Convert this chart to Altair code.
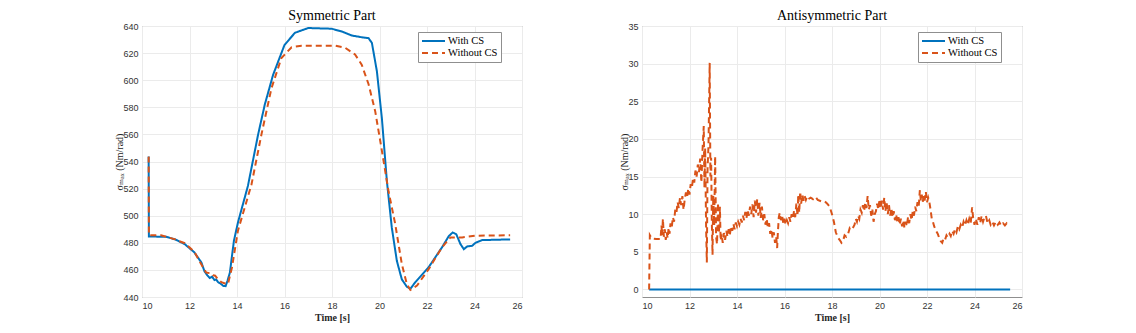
import altair as alt
import pandas as pd

# ---------------- Symmetric part ----------------
sym_t_with = [10.28, 10.29, 11.0, 11.4, 11.8, 12.2, 12.5, 12.63, 12.75, 12.85, 12.95, 13.05, 13.12, 13.2,
              13.3, 13.42, 13.52, 13.6, 13.7, 13.87, 14.04, 14.46, 14.89, 15.17, 15.52, 16.0, 16.44, 17.0,
              17.98, 18.41, 18.83, 19.25, 19.54, 19.68, 19.89, 20.1, 20.31, 20.52, 20.73, 20.94, 21.15,
              21.3, 21.5, 22.07, 22.63, 22.92, 23.08, 23.23, 23.41, 23.55, 23.69, 23.9, 24.04, 24.32, 25.5]
sym_v_with = [543.6, 484.6, 484.5, 482.5, 479, 473, 465.5, 459, 456, 454, 455, 452.5, 453, 451,
              450, 448.2, 448, 452, 458, 481.5, 495, 522, 560, 582, 604, 626, 635, 638.5,
              638, 636, 633, 631.7, 631, 627.5, 606.6, 572, 525.6, 491, 466.7, 453, 447.6,
              446, 450.8, 462, 476.6, 485, 487.6, 486.4, 479, 475.3, 477.3, 477.8, 480, 482, 482.5]

sym_t_without = [10.28, 10.29, 10.8, 11.4, 11.8, 12.2, 12.49, 12.7, 12.92, 13.0, 13.08, 13.2, 13.34, 13.5,
                 13.62, 13.79, 14.04, 14.61, 15.03, 15.45, 15.87, 16.3, 16.72, 18.13, 18.55, 18.97, 19.25,
                 19.54, 19.82, 20.1, 20.38, 20.66, 20.94, 21.15, 21.3, 21.58, 22.07, 22.63, 22.99, 23.48,
                 24.04, 25.5]
sym_v_without = [543.6, 485.6, 485.6, 482.5, 479.7, 473.5, 464.3, 458, 457.4, 456, 455.7, 453, 451, 450,
                 449.6, 462, 489, 523, 560, 594, 616.4, 624.3, 625.5, 625.5, 624, 619, 611.5,
                 597, 577, 548, 518, 494, 464.3, 449.6, 445.2, 448.4, 460.6, 476.6, 484, 484,
                 485.2, 485.6]

# ---------------- Antisymmetric part ----------------
anti_t_with = [10.3, 25.5]
anti_v_with = [0.0, 0.0]

anti_t_without = [
    10.30, 10.33, 10.40, 10.60, 10.78, 10.82, 10.85, 10.88, 10.92, 10.96, 11.00, 11.04, 11.08, 11.12,
    11.16, 11.20, 11.25, 11.30, 11.35, 11.40, 11.45, 11.50, 11.55, 11.60, 11.65, 11.70, 11.75, 11.80,
    11.85, 11.90, 11.95, 12.00, 12.05, 12.10, 12.15, 12.20, 12.25, 12.30, 12.35, 12.40, 12.45, 12.50,
    12.55, 12.60, 12.63, 12.66, 12.70, 12.73, 12.76, 12.80, 12.85, 12.88, 12.91, 12.94, 12.97, 13.00,
    13.04, 13.08, 13.12, 13.16, 13.20, 13.24, 13.28, 13.31, 13.35, 13.40, 13.45, 13.50, 13.55, 13.60,
    13.65, 13.70, 13.75, 13.80, 13.85, 13.90, 13.95, 14.00, 14.05, 14.10, 14.15, 14.20, 14.25, 14.30,
    14.35, 14.40, 14.45, 14.50, 14.55, 14.60, 14.65, 14.70, 14.75, 14.80, 14.85, 14.90, 14.95, 15.00,
    15.05, 15.10, 15.15, 15.20, 15.25, 15.30, 15.35, 15.40, 15.45, 15.50, 15.55, 15.60, 15.65, 15.69,
    15.72, 15.76, 15.80, 15.85, 15.90, 15.95, 16.00, 16.05, 16.10, 16.15, 16.20, 16.25, 16.30, 16.35,
    16.40, 16.45, 16.50, 16.55, 16.58, 16.62, 16.66, 16.70, 16.75, 16.80, 16.85, 16.90, 16.95, 17.00,
    17.10, 17.20, 17.30, 17.40, 17.55, 17.70, 17.80, 17.90, 18.00, 18.08, 18.16, 18.25, 18.32, 18.40,
    18.46, 18.53, 18.60, 18.68, 18.75, 18.85, 18.95, 19.00, 19.05, 19.10, 19.15, 19.20, 19.25, 19.30,
    19.35, 19.40, 19.45, 19.50, 19.55, 19.60, 19.65, 19.70, 19.75, 19.80, 19.85, 19.90, 19.95, 20.00,
    20.05, 20.10, 20.15, 20.20, 20.25, 20.30, 20.35, 20.40, 20.45, 20.50, 20.55, 20.60, 20.65, 20.70,
    20.75, 20.80, 20.85, 20.90, 20.95, 21.00, 21.05, 21.10, 21.15, 21.20, 21.25, 21.30, 21.35, 21.40,
    21.45, 21.50, 21.55, 21.60, 21.65, 21.70, 21.74, 21.78, 21.82, 21.86, 21.90, 21.95, 22.00, 22.05,
    22.10, 22.15, 22.20, 22.25, 22.30, 22.38, 22.45, 22.52, 22.58, 22.64, 22.70, 22.76, 22.82, 22.88,
    22.95, 23.00, 23.06, 23.12, 23.18, 23.24, 23.30, 23.36, 23.42, 23.48, 23.54, 23.60, 23.66, 23.72,
    23.78, 23.84, 23.90, 23.94, 24.00, 24.06, 24.12, 24.18, 24.24, 24.30, 24.36, 24.42, 24.48, 24.55,
    24.62, 24.68, 24.75, 24.82, 24.90, 24.98, 25.05, 25.12, 25.20, 25.28, 25.36, 25.44, 25.50]
anti_v_without = [
    0.0, 7.2, 6.8, 6.7, 6.7, 8.5, 7.2, 9.4, 7.0, 8.0, 6.6, 7.6, 6.8, 8.2,
    7.4, 8.8, 8.2, 9.6, 9.0, 10.6, 10.2, 11.6, 10.8, 12.2, 11.2, 12.4, 10.6, 12.0,
    12.9, 12.3, 13.4, 12.6, 14.0, 13.5, 14.8, 14.2, 15.8, 15.0, 16.6, 15.6, 17.4, 14.2,
    18.6, 21.7, 13.5, 18.8, 8.0, 3.6, 16.0, 19.2, 30.1, 15.0, 17.5, 9.0, 4.6, 12.5,
    8.5, 17.7, 7.0, 6.0, 11.5, 7.5, 11.0, 6.5, 7.4, 6.2, 7.5, 6.6, 7.8, 7.0,
    8.0, 7.3, 8.4, 7.8, 8.7, 8.0, 8.9, 8.4, 9.0, 8.6, 9.4, 8.9, 9.8, 9.2,
    10.3, 9.5, 10.6, 9.8, 11.0, 10.0, 11.3, 9.6, 11.8, 10.2, 12.0, 9.8, 11.5, 9.5,
    11.0, 9.2, 10.0, 8.6, 9.4, 8.2, 8.8, 7.4, 8.0, 6.8, 7.6, 6.2, 7.0, 5.5,
    7.5, 9.6, 10.2, 9.2, 9.8, 8.8, 9.4, 8.6, 9.2, 8.8, 9.6, 9.0, 10.0, 9.4,
    10.4, 9.6, 11.4, 9.8, 12.6, 10.2, 13.0, 11.4, 12.6, 11.8, 12.4, 11.9, 12.3, 12.0,
    12.2, 12.0, 12.3, 11.9, 11.7, 11.7, 11.4, 11.0, 10.0, 9.0, 7.6, 6.9, 6.6, 6.2,
    6.4, 7.2, 7.0, 7.4, 8.2, 8.0, 8.6, 9.4, 9.0, 9.8, 9.4, 10.6, 10.2, 11.2,
    10.4, 11.6, 10.8, 12.4, 10.6, 11.2, 9.8, 10.6, 9.0, 10.0, 10.4, 11.4, 10.6, 12.0,
    10.8, 11.8, 10.6, 12.2, 10.4, 11.6, 10.0, 11.2, 9.8, 10.8, 9.6, 10.4, 9.2, 10.0,
    9.0, 9.6, 8.6, 9.4, 8.4, 9.2, 8.2, 9.0, 8.4, 9.6, 8.8, 10.0, 9.2, 10.4,
    9.8, 11.0, 10.4, 11.6, 11.0, 13.2, 11.8, 12.6, 11.6, 12.4, 11.8, 13.0, 11.6, 12.2,
    11.6, 10.6, 9.4, 9.0, 8.4, 7.8, 7.4, 6.8, 6.4, 6.2, 6.8, 6.6, 7.2, 6.9,
    7.4, 7.1, 7.8, 7.4, 8.0, 7.6, 8.4, 8.0, 8.6, 8.2, 9.0, 8.5, 9.2, 8.6,
    9.4, 8.8, 10.9, 9.6, 8.6, 9.4, 8.6, 9.6, 8.8, 9.8, 9.0, 9.6, 9.8, 8.8,
    9.2, 8.6, 9.0, 8.5, 9.0, 8.6, 8.9, 8.5, 8.8, 8.5, 8.8, 8.6, 8.7]

series_names = ["With CS", "Without CS"]
series_colors = ["#0072BD", "#D95319"]
x_ticks = [10, 12, 14, 16, 18, 20, 22, 24, 26]
sym_y_ticks = [440, 460, 480, 500, 520, 540, 560, 580, 600, 620, 640]
anti_y_ticks = [0, 5, 10, 15, 20, 25, 30, 35]

SERIF = "Liberation Serif, Times New Roman, DejaVu Serif, serif"


def frame(t_with, v_with, t_without, v_without):
    a = pd.DataFrame({"t": t_with, "v": v_with, "s": series_names[0]})
    b = pd.DataFrame({"t": t_without, "v": v_without, "s": series_names[1]})
    return pd.concat([a, b], ignore_index=True)


def panel(df, title, ydomain, yticks):
    legend = alt.Legend(
        title=None, orient="none", legendX=276, legendY=6, direction="vertical",
        padding=3, strokeColor="#8f8f8f", fillColor="white",
        labelFont=SERIF, labelFontSize=10.5, labelColor="black",
        symbolType="M-1,0H3.6", symbolSize=100, symbolStrokeWidth=2, labelOffset=15,
        rowPadding=0,
    )
    return alt.Chart(df).mark_line(strokeWidth=2, clip=True).encode(
        x=alt.X("t:Q", scale=alt.Scale(domain=[10, 26], nice=False, zero=False),
                axis=alt.Axis(values=x_ticks, title="Time [s]")),
        y=alt.Y("v:Q", scale=alt.Scale(domain=ydomain, nice=False, zero=False),
                axis=alt.Axis(values=yticks, title="σₘₐₓ (Nm/rad)")),
        color=alt.Color("s:N", scale=alt.Scale(domain=series_names, range=series_colors), legend=legend),
        strokeDash=alt.StrokeDash("s:N", scale=alt.Scale(domain=series_names, range=[[1, 0], [6, 4]]),
                                  legend=legend),
        order=alt.Order("t:Q"),
    ).properties(
        width=380, height=271,
        title=alt.TitleParams(title, font=SERIF, fontSize=14, fontWeight="normal",
                              color="black", offset=-1),
    )


left = panel(frame(sym_t_with, sym_v_with, sym_t_without, sym_v_without),
             "Symmetric Part", [440, 640], sym_y_ticks)
right = panel(frame(anti_t_with, anti_v_with, anti_t_without, anti_v_without),
              "Antisymmetric Part", [-1, 35], anti_y_ticks)

chart = alt.hconcat(left, right, spacing=120, bounds="flush").resolve_scale(
    color="independent", strokeDash="independent"
).resolve_legend(color="independent", strokeDash="independent").properties(
    padding={"left": 106, "top": 0, "right": 5, "bottom": 5}
).configure_view(
    stroke="#8f8f8f", strokeWidth=1
).configure_axis(
    grid=True, gridColor="#ebebeb", domain=False, ticks=False,
    labelFont="Liberation Sans", labelFontSize=9, labelColor="#333333", labelPadding=4,
    titleFont=SERIF, titleFontSize=10, titleColor="#262626", titleFontWeight="normal",
).configure_axisX(
    titleFontWeight="bold", titlePadding=2
).configure_axisY(
    titlePadding=-2
)

chart.save("out.html", embed_options={"renderer": "svg", "actions": False})
